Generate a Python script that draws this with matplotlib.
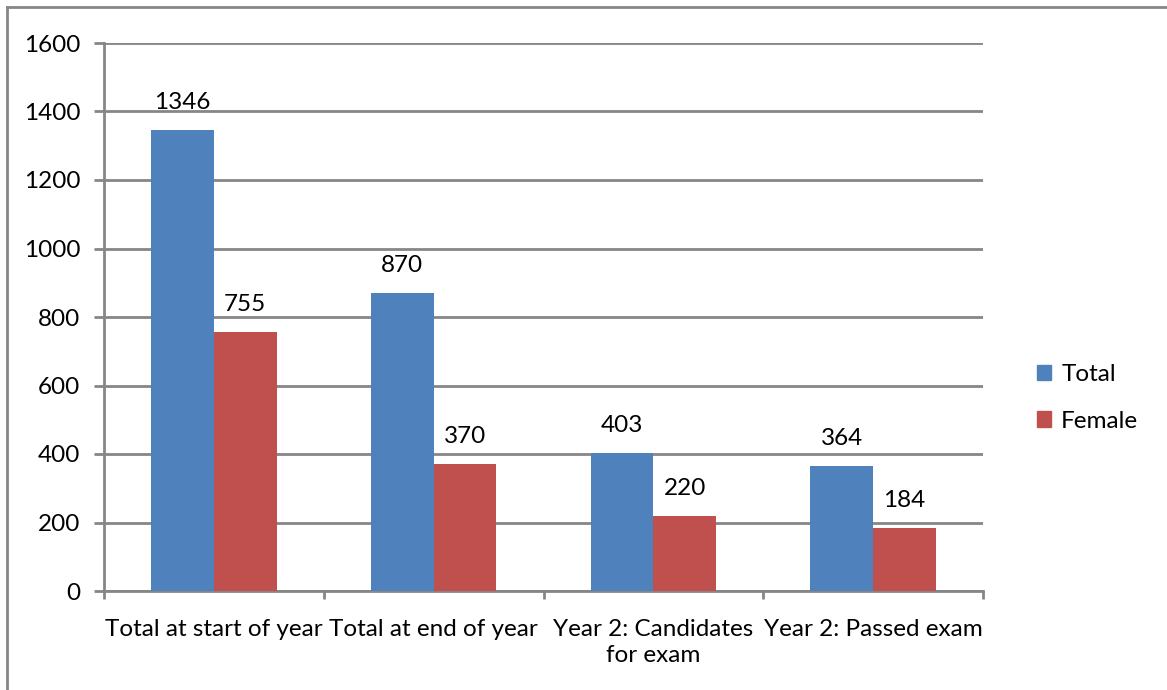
import matplotlib
matplotlib.use("Agg")
import matplotlib.pyplot as plt
from matplotlib.lines import Line2D
from matplotlib.patches import Patch
import numpy as np

categories = ["Total at start of year", "Total at end of year",
              "Year 2: Candidates\nfor exam", "Year 2: Passed exam"]
total = [1346, 870, 403, 364]
female = [755, 370, 220, 184]
series_names = ["Total", "Female"]
colors = ["#4F81BD", "#C0504D"]
yticks = [0, 200, 400, 600, 800, 1000, 1200, 1400, 1600]

plt.rcParams['font.family'] = ['Lato', 'DejaVu Sans']
FS = 17.5
W, H = 1167, 690
fig = plt.figure(figsize=(W/100, H/100), dpi=100)
ax = fig.add_axes([104/W, 1-591/H, (983-104)/W, (591-43)/H])

x = np.arange(len(categories))
bw = 0.286
ax.bar(x - bw/2, total, bw, color=colors[0], zorder=3)
ax.bar(x + bw/2, female, bw, color=colors[1], zorder=3)
for xi, v in zip(x, total):
    ax.text(xi - bw/2, v + 50, str(v), ha='center', va='bottom', fontsize=FS)
for xi, v in zip(x, female):
    ax.text(xi + bw/2, v + 50, str(v), ha='center', va='bottom', fontsize=FS)

ax.set_xlim(-0.5, len(categories) - 0.5)
ax.set_ylim(0, 1600)
ax.set_yticks(yticks)
ax.set_yticklabels([str(t) for t in yticks], fontsize=FS)
ax.yaxis.grid(True, color='#868686', linewidth=2, zorder=0)
ax.set_xticks(np.arange(-0.5, len(categories), 1.0))
ax.set_xticklabels([])
ax.set_xticks(x, minor=True)
ax.set_xticklabels(categories, minor=True, fontsize=FS, linespacing=1.3)
ax.tick_params(axis='x', which='minor', length=0, pad=20)
ax.tick_params(axis='x', which='major', length=6, width=2, color='#868686', direction='out')
ax.tick_params(axis='y', length=7, width=2, color='#868686', direction='out', pad=10)
for s in ['top', 'right']:
    ax.spines[s].set_visible(False)
for s in ['left', 'bottom']:
    ax.spines[s].set_color('#868686')
    ax.spines[s].set_linewidth(2)

handles = [Patch(color=c) for c in colors]
fig.legend(handles, series_names, loc='center left', bbox_to_anchor=(1015/W, 1-398/H),
           frameon=False, fontsize=FS, handlelength=0.6, handleheight=0.6,
           handletextpad=0.4, labelspacing=1.05)

# outer frame (left and top edges visible)
fig.add_artist(Line2D([7/W, 7/W], [0, 1-7/H], transform=fig.transFigure, color='#868686', linewidth=2))
fig.add_artist(Line2D([7/W, 1], [1-7/H, 1-7/H], transform=fig.transFigure, color='#868686', linewidth=2))

fig.savefig("out.png", dpi=100)
